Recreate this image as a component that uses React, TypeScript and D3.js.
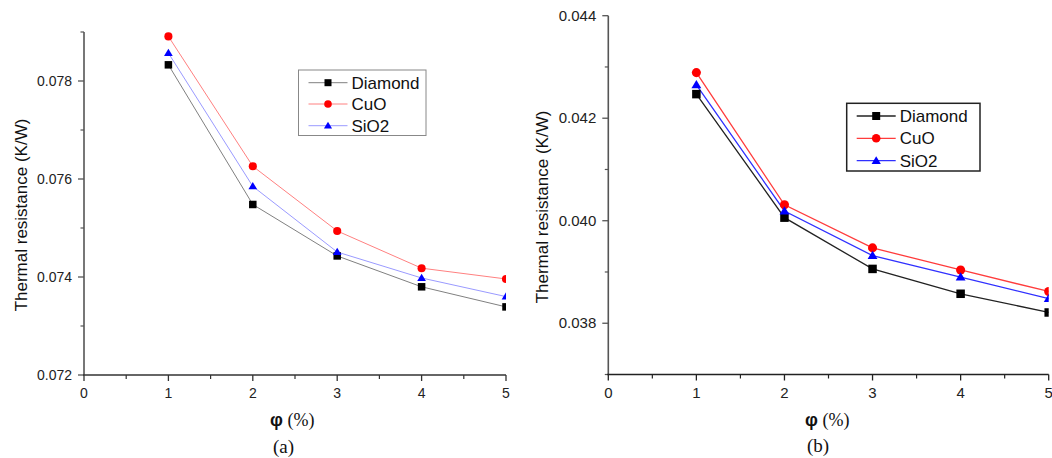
import React from "react";
import * as d3 from "d3";

const phi = [1, 2, 3, 4, 5];
const xTicks = [0, 1, 2, 3, 4, 5];
const xMinor = [0.5, 1.5, 2.5, 3.5, 4.5];

const diamondA = [0.07833, 0.07548, 0.07443, 0.0738, 0.07339];
const cuoA = [0.07891, 0.07626, 0.07494, 0.07418, 0.07396];
const sio2A = [0.07857, 0.07585, 0.07451, 0.07398, 0.0736];
const yTicksA = [0.072, 0.074, 0.076, 0.078];
const yMinorA = [0.073, 0.075, 0.077, 0.079];

const diamondB = [0.04247, 0.04006, 0.03906, 0.038575, 0.03821];
const cuoB = [0.04289, 0.04031, 0.03947, 0.03904, 0.03862];
const sio2B = [0.04265, 0.04019, 0.03932, 0.0389, 0.03848];
const yTicksB = [0.038, 0.04, 0.042, 0.044];
const yMinorB = [0.037, 0.039, 0.041, 0.043];

const seriesNames = ["Diamond", "CuO", "SiO2"];

type Panel = {
  id: string;
  xr: [number, number];
  yr: [number, number];
  yd: [number, number];
  series: number[][];
  yTicks: number[];
  yMinor: number[];
  lineColors: string[];
  markColors: string[];
  lineWidth: number;
  axisColor: string;
  xAxisColor: string;
  tickFont: number;
  titleX: number;
  titleY: number;
  legend: { x: number; y: number; w: number; h: number; rows: number[]; border: string; bw: number };
  xlab: [number, number];
  sub: [number, number, string];
};

const sans = "'Liberation Sans', Arial, sans-serif";
const serif = "'Liberation Serif', 'Times New Roman', serif";

function Marker({ kind, x, y, color, s }: { kind: number; x: number; y: number; color: string; s: number }) {
  if (kind === 0) return <rect x={x - s / 2} y={y - s / 2} width={s} height={s} fill={color} />;
  if (kind === 1) return <circle cx={x} cy={y} r={s / 2 + 0.3} fill={color} />;
  const h = s * 0.95;
  return (
    <path
      d={`M${x},${y - h * 0.6} L${x + s * 0.58},${y + h * 0.42} L${x - s * 0.58},${y + h * 0.42} Z`}
      fill={color}
    />
  );
}

function ChartPanel({ p }: { p: Panel }) {
  const x = d3.scaleLinear().domain([0, 5]).range(p.xr);
  const y = d3.scaleLinear().domain(p.yd).range(p.yr);
  const markColors = ["#000000", "#ff0000", "#0000ff"];
  const line = d3
    .line<number>()
    .x((_, i) => x(phi[i]))
    .y((v) => y(v));
  const [x0, x1] = p.xr;
  const [yb, yt] = p.yr;
  const ms = p.id === "a" ? 7.5 : 8.5;
  return (
    <g>
      <defs>
        <clipPath id={"clip" + p.id}>
          <rect x={x0 - 20} y={yt - 20} width={x1 - x0 + 20} height={yb - yt + 20} />
        </clipPath>
      </defs>
      {/* y axis */}
      <line x1={x0} x2={x0} y1={yt} y2={yb} stroke={p.axisColor} strokeWidth={1.6} />
      {p.yTicks.map((t) => (
        <g key={"yt" + t}>
          <line x1={x0 - 6} x2={x0} y1={y(t)} y2={y(t)} stroke={p.axisColor} strokeWidth={1.3} />
          <text
            x={x0 - 12}
            y={y(t) + 5}
            textAnchor="end"
            fontFamily={sans}
            fontSize={p.tickFont}
            fill="#222"
          >
            {d3.format(".3f")(t)}
          </text>
        </g>
      ))}
      {p.yMinor.map((t) => (
        <line key={"ym" + t} x1={x0 - 3.5} x2={x0} y1={y(t)} y2={y(t)} stroke={p.axisColor} strokeWidth={1.2} />
      ))}
      {/* x axis */}
      <line x1={x0 - 1} x2={x1} y1={yb} y2={yb} stroke={p.xAxisColor} strokeWidth={1.6} />
      {xTicks.map((t) => (
        <g key={"xt" + t}>
          <line x1={x(t)} x2={x(t)} y1={yb} y2={yb + 6} stroke={p.xAxisColor} strokeWidth={1.3} />
          <text x={x(t)} y={yb + 23} textAnchor="middle" fontFamily={sans} fontSize={p.tickFont} fill="#222">
            {t}
          </text>
        </g>
      ))}
      {xMinor.map((t) => (
        <line key={"xm" + t} x1={x(t)} x2={x(t)} y1={yb} y2={yb + 4} stroke={p.xAxisColor} strokeWidth={1.2} />
      ))}
      {/* data */}
      <g clipPath={`url(#clip${p.id})`}>
        {p.series.map((s, k) => (
          <path key={"l" + k} d={line(s) || ""} fill="none" stroke={p.lineColors[k]} strokeWidth={p.lineWidth} />
        ))}
        {p.series.map((s, k) =>
          s.map((v, i) => <Marker key={"m" + k + i} kind={k} x={x(phi[i])} y={y(v)} color={markColors[k]} s={ms} />)
        )}
      </g>
      {/* y title */}
      <text
        transform={`translate(${p.titleX},${p.titleY}) rotate(-90)`}
        textAnchor="middle"
        fontFamily={sans}
        fontSize={17}
        fill="#111"
      >
        Thermal resistance (K/W)
      </text>
      {/* legend */}
      <rect
        x={p.legend.x}
        y={p.legend.y}
        width={p.legend.w}
        height={p.legend.h}
        fill="#fff"
        stroke={p.legend.border}
        strokeWidth={p.legend.bw}
      />
      {seriesNames.map((n, k) => {
        const ry = p.legend.rows[k];
        const lx = p.legend.x + 10;
        return (
          <g key={"lg" + n}>
            <line x1={lx} x2={lx + 39} y1={ry} y2={ry} stroke={p.lineColors[k]} strokeWidth={p.lineWidth} />
            <Marker kind={k} x={lx + 19.5} y={ry} color={markColors[k]} s={ms - 0.5} />
            <text x={lx + 43} y={ry + 6} fontFamily={sans} fontSize={17} fill="#111">
              {n}
            </text>
          </g>
        );
      })}
      {/* x title */}
      <text x={p.xlab[0]} y={p.xlab[1]} fontSize={18} fill="#111">
        <tspan fontFamily={sans} fontWeight="bold">φ</tspan>
        <tspan fontFamily={serif}> (%)</tspan>
      </text>
      <text x={p.sub[0]} y={p.sub[1]} fontFamily={serif} fontSize={19} fill="#111">
        {p.sub[2]}
      </text>
    </g>
  );
}

const panels: Panel[] = [
  {
    id: "a",
    xr: [84, 506],
    yr: [375, 32],
    yd: [0.072, 0.079],
    series: [diamondA, cuoA, sio2A],
    yTicks: yTicksA,
    yMinor: yMinorA,
    lineColors: ["#808080", "#ff8080", "#9a9aff"],
    markColors: [],
    lineWidth: 1,
    axisColor: "#555",
    xAxisColor: "#333",
    tickFont: 14,
    titleX: 27,
    titleY: 215,
    legend: { x: 298.5, y: 70, w: 127.5, h: 65.5, rows: [82.7, 104, 125.7], border: "#888", bw: 1 },
    xlab: [270, 426],
    sub: [273, 453, "(a)"],
  },
  {
    id: "b",
    xr: [608.3, 1048.7],
    yr: [374.5, 15.7],
    yd: [0.037, 0.044],
    series: [diamondB, cuoB, sio2B],
    yTicks: yTicksB,
    yMinor: yMinorB,
    lineColors: ["#222222", "#ff3c3c", "#3030ff"],
    markColors: [],
    lineWidth: 1.3,
    axisColor: "#555",
    xAxisColor: "#222",
    tickFont: 15,
    titleX: 548,
    titleY: 207,
    legend: { x: 846.7, y: 103.3, w: 133.3, h: 67.7, rows: [116, 138.3, 160.7], border: "#222", bw: 1.5 },
    xlab: [805, 426],
    sub: [807, 452, "(b)"],
  },
];

export default function App() {
  return (
    <svg
      width={1052}
      height={458}
      style={{ position: "absolute", left: 0, top: 0, background: "#fff" }}
    >
      <rect width={1052} height={458} fill="#fff" />
      {panels.map((p) => (
        <ChartPanel key={p.id} p={p} />
      ))}
    </svg>
  );
}
